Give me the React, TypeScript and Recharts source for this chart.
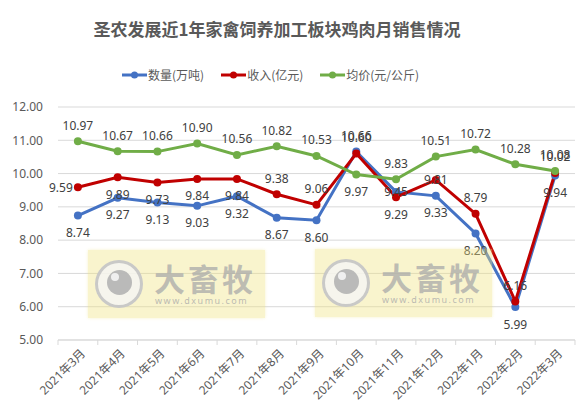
import React from "react";
import { CartesianGrid, LabelList, Line, LineChart, XAxis, YAxis } from "recharts";

const months = [
  "2021年3月", "2021年4月", "2021年5月", "2021年6月", "2021年7月", "2021年8月", "2021年9月",
  "2021年10月", "2021年11月", "2021年12月", "2022年1月", "2022年2月", "2022年3月",
];
const volume = [8.74, 9.27, 9.13, 9.03, 9.32, 8.67, 8.6, 10.66, 9.45, 9.33, 8.2, 5.99, 9.94];
const revenue = [9.59, 9.89, 9.73, 9.84, 9.84, 9.38, 9.06, 10.6, 9.29, 9.81, 8.79, 6.16, 10.02];
const price = [10.97, 10.67, 10.66, 10.9, 10.56, 10.82, 10.53, 9.97, 9.83, 10.51, 10.72, 10.28, 10.08];
const yTicks = [5, 6, 7, 8, 9, 10, 11, 12];

// where each data label sits relative to its point
const volumePos = ["below", "below", "below", "below", "below", "below", "below", "above", "center", "below", "below", "below", "below"];
const revenuePos = ["left", "below", "below", "below", "below", "above", "above", "above", "below", "center", "above", "above", "above"];
const pricePos = ["above", "above", "above", "above", "above", "above", "above", "below", "above", "above", "above", "above", "above"];

const data = months.map((m, i) => ({ month: m, volume: volume[i], revenue: revenue[i], price: price[i] }));

const FONT = '"Noto Sans", "Noto Sans CJK SC", sans-serif';
const BLUE = "#4472C4";
const RED = "#C00000";
const GREEN = "#70AD47";

const makeLabel = (pos: string[]) => (props: any) => {
  const { x, y, value, index } = props;
  const p = pos[index];
  let dx = 0;
  let dy = 0;
  if (p === "above") dy = -16;
  if (p === "below") dy = 17;
  if (p === "left") dx = -17;
  return (
    <text x={x + dx} y={y + dy} textAnchor="middle" dominantBaseline="central" fontSize={12} fill="#404040" fontFamily={FONT}>
      {Number(value).toFixed(2)}
    </text>
  );
};

const MonthTick = (props: any) => {
  const { x, y, payload, index, width, visibleTicksCount } = props;
  const half = width / visibleTicksCount / 2;
  return (
    <g>
      <line x1={x - half} y1={y} x2={x - half} y2={y + 5} stroke="#d9d9d9" />
      {index === visibleTicksCount - 1 && <line x1={x + half} y1={y} x2={x + half} y2={y + 5} stroke="#d9d9d9" />}
      <text
        transform={`translate(${x + 5},${y + 11}) rotate(-45)`}
        textAnchor="end"
        dominantBaseline="central"
        fontSize={12}
        fill="#595959"
        fontFamily={FONT}
      >
        {payload.value}
      </text>
    </g>
  );
};

const legendItems = [
  { name: "数量(万吨)", color: BLUE },
  { name: "收入(亿元)", color: RED },
  { name: "均价(元/公斤)", color: GREEN },
];

function Watermark({ left, top }: { left: number; top: number }) {
  return (
    <div
      style={{
        position: "absolute",
        left,
        top,
        width: 177,
        height: 68,
        background: "rgba(240, 228, 130, 0.4)",
        boxShadow: "0 0 3px rgba(240, 228, 130, 0.4)",
        pointerEvents: "none",
      }}
    >
      <div
        style={{
          position: "absolute",
          left: 7,
          top: 10,
          width: 42,
          height: 42,
          borderRadius: "50%",
          border: "3px solid rgba(190,190,190,0.8)",
          background: "rgba(245,245,245,0.8)",
        }}
      >
        <div
          style={{
            position: "absolute",
            left: 9,
            top: 7,
            width: 25,
            height: 25,
            borderRadius: "50%",
            background: "rgba(175,175,175,0.85)",
          }}
        />
        <div
          style={{
            position: "absolute",
            left: 13,
            top: 10,
            width: 8,
            height: 8,
            borderRadius: "50%",
            background: "rgba(245,245,245,0.9)",
          }}
        />
      </div>
      <div
        style={{
          position: "absolute",
          left: 66,
          top: 11,
          fontSize: 31,
          lineHeight: "33px",
          fontWeight: 700,
          color: "rgba(170,170,170,0.75)",
          fontFamily: '"Noto Sans CJK SC", sans-serif',
          letterSpacing: 3,
        }}
      >
        大畜牧
      </div>
      <div
        style={{
          position: "absolute",
          left: 67,
          top: 46,
          fontSize: 9,
          lineHeight: "10px",
          color: "rgba(170,170,170,0.8)",
          fontFamily: FONT,
          letterSpacing: 1.5,
        }}
      >
        www.dxumu.com
      </div>
    </div>
  );
}

export default function App() {
  return (
    <div style={{ position: "absolute", left: 0, top: 0, width: 584, height: 415, background: "#fff", fontFamily: FONT }}>
      <div
        style={{
          position: "absolute",
          left: 0,
          width: 554,
          top: 17,
          textAlign: "center",
          fontSize: 17,
          fontWeight: 700,
          color: "#595959",
          fontFamily: '"Noto Sans CJK SC", sans-serif',
          lineHeight: "24px",
        }}
      >
        圣农发展近1年家禽饲养加工板块鸡肉月销售情况
      </div>
      <div style={{ position: "absolute", left: 122, top: 66, display: "flex", alignItems: "center", fontSize: 12, color: "#595959", lineHeight: "18px" }}>
        {legendItems.map((it) => (
          <div key={it.name} style={{ display: "flex", alignItems: "center", marginRight: 17 }}>
            <svg width={25} height={10}>
              <line x1={0} y1={5} x2={25} y2={5} stroke={it.color} strokeWidth={3} />
              <circle cx={12.5} cy={5} r={3.5} fill={it.color} />
            </svg>
            <span style={{ marginLeft: 1, fontFamily: '"Noto Sans CJK SC", sans-serif' }}>{it.name}</span>
          </div>
        ))}
      </div>
      <div style={{ position: "absolute", left: 0, top: 0 }}>
        <LineChart width={584} height={415} data={data} margin={{ top: 107, right: 9, left: 0, bottom: 10 }}>
          <CartesianGrid stroke="#d9d9d9" vertical={false} />
          <XAxis
            dataKey="month"
            height={65}
            padding={{ left: 19.9, right: 19.9 }}
            interval={0}
            tickLine={false}
            tickSize={0}
            tickMargin={0}
            axisLine={{ stroke: "#d9d9d9" }}
            tick={<MonthTick />}
          />
          <YAxis
            width={58}
            domain={[5, 12]}
            ticks={yTicks}
            interval={0}
            axisLine={false}
            tickLine={false}
            tickSize={0}
            tickMargin={15}
            tickFormatter={(v: number) => v.toFixed(2)}
            tick={{ fontSize: 12, fill: "#595959", fontFamily: FONT }}
          />
          <Line dataKey="volume" stroke={BLUE} strokeWidth={3} dot={{ r: 4, fill: BLUE, stroke: BLUE, strokeWidth: 0 }} isAnimationActive={false}>
            <LabelList dataKey="volume" content={makeLabel(volumePos)} />
          </Line>
          <Line dataKey="revenue" stroke={RED} strokeWidth={3} dot={{ r: 4, fill: RED, stroke: RED, strokeWidth: 0 }} isAnimationActive={false}>
            <LabelList dataKey="revenue" content={makeLabel(revenuePos)} />
          </Line>
          <Line dataKey="price" stroke={GREEN} strokeWidth={3} dot={{ r: 4, fill: GREEN, stroke: GREEN, strokeWidth: 0 }} isAnimationActive={false}>
            <LabelList dataKey="price" content={makeLabel(pricePos)} />
          </Line>
        </LineChart>
      </div>
      <Watermark left={88} top={250} />
      <Watermark left={315} top={249} />
    </div>
  );
}
